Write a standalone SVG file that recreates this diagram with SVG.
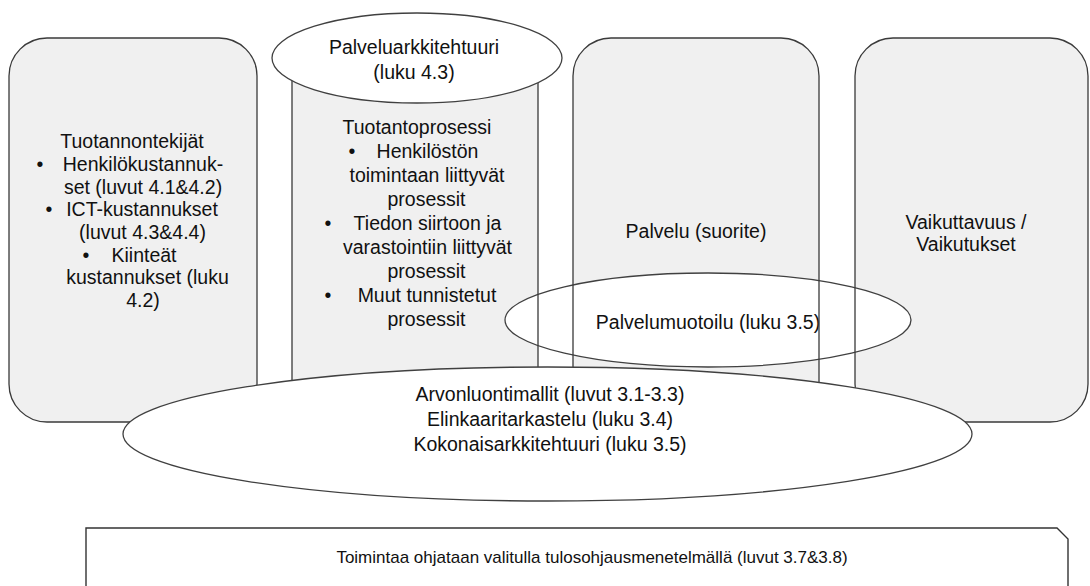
<svg xmlns="http://www.w3.org/2000/svg" width="1090" height="586" viewBox="0 0 1090 586">
  <style>
    .box { fill: #f0f0f0; stroke: none; }
    .edge { fill: none; stroke: #3a3a3a; stroke-width: 1.3; }
    .oval { fill: #ffffff; stroke: #404040; stroke-width: 1.3; }
    .frame { fill: #ffffff; stroke: #333333; stroke-width: 1.4; }
    text { font-family: "Liberation Sans", Arial, sans-serif; font-size: 19.5px; fill: #111111; text-anchor: middle; }
    .small { font-size: 17px; }
  </style>
  <defs>
    <!-- column shapes, reused for fills and outlines -->
    <rect id="col1" x="9" y="38" width="248" height="384" rx="38"/>
    <rect id="col2" x="292" y="38" width="246" height="384" rx="38"/>
    <rect id="col3" x="573" y="38" width="246" height="384" rx="38"/>
    <rect id="col4" x="855" y="38" width="233" height="384" rx="38"/>
  </defs>

  <rect width="1090" height="586" fill="#ffffff"/>

  <!-- column 1: production factors -->
  <g id="tuotannontekijat">
    <use href="#col1" class="box"/>
    <text x="132" y="148">Tuotannontekijät</text>
    <text x="40" y="171">•</text>
    <text x="143" y="171">Henkilökustannuk-</text>
    <text x="143" y="193.5">set (luvut 4.1&amp;4.2)</text>
    <text x="49" y="216">•</text>
    <text x="142" y="216">ICT-kustannukset</text>
    <text x="142.5" y="239">(luvut 4.3&amp;4.4)</text>
    <text x="86" y="261.5">•</text>
    <text x="144" y="261.5">Kiinteät</text>
    <text x="147.5" y="284">kustannukset (luku</text>
    <text x="143" y="307">4.2)</text>
  </g>

  <!-- column 2: production process -->
  <g id="tuotantoprosessi">
    <use href="#col2" class="box"/>
    <text x="417" y="134">Tuotantoprosessi</text>
    <text x="352" y="158">•</text>
    <text x="427.5" y="158">Henkilöstön</text>
    <text x="427" y="182">toimintaan liittyvät</text>
    <text x="426.5" y="206">prosessit</text>
    <text x="328" y="230">•</text>
    <text x="427.5" y="230">Tiedon siirtoon ja</text>
    <text x="427.5" y="254">varastointiin liittyvät</text>
    <text x="426.5" y="278">prosessit</text>
    <text x="328" y="302">•</text>
    <text x="427" y="302">Muut tunnistetut</text>
    <text x="426.5" y="326">prosessit</text>
  </g>

  <!-- column 3: service -->
  <g id="palvelu">
    <use href="#col3" class="box"/>
    <text x="696" y="238">Palvelu (suorite)</text>
  </g>

  <!-- column 4: effectiveness -->
  <g id="vaikuttavuus">
    <use href="#col4" class="box"/>
    <text x="966" y="229">Vaikuttavuus /</text>
    <text x="966" y="251">Vaikutukset</text>
  </g>

  <!-- service design oval, lying across columns 2-4 -->
  <g id="palvelumuotoilu">
    <ellipse class="oval" cx="708" cy="320" rx="203" ry="47"/>
    <text x="708" y="329">Palvelumuotoilu (luku 3.5)</text>
  </g>

  <!-- column borders stay visible over the service design oval -->
  <g id="connectors">
    <use href="#col1" class="edge"/>
    <use href="#col2" class="edge"/>
    <use href="#col3" class="edge"/>
    <use href="#col4" class="edge"/>
  </g>

  <!-- service architecture cap on column 2 -->
  <g id="palveluarkkitehtuuri">
    <ellipse class="oval" cx="417" cy="58" rx="145" ry="45"/>
    <text x="414" y="54">Palveluarkkitehtuuri</text>
    <text x="414" y="79">(luku 4.3)</text>
  </g>

  <!-- base oval under all columns -->
  <g id="arvonluontimallit">
    <ellipse class="oval" cx="547.5" cy="434" rx="424.5" ry="67"/>
    <text x="550" y="401">Arvonluontimallit (luvut 3.1-3.3)</text>
    <text x="550" y="426">Elinkaaritarkastelu (luku 3.4)</text>
    <text x="550" y="451">Kokonaisarkkitehtuuri (luku 3.5)</text>
  </g>

  <!-- steering frame at the bottom, snipped top-right corner -->
  <g id="tulosohjaus">
    <path class="frame" d="M86,528 H1057 L1068,539 V600 H86 Z"/>
    <text class="small" x="592" y="563">Toimintaa ohjataan valitulla tulosohjausmenetelmällä (luvut 3.7&amp;3.8)</text>
  </g>
</svg>
